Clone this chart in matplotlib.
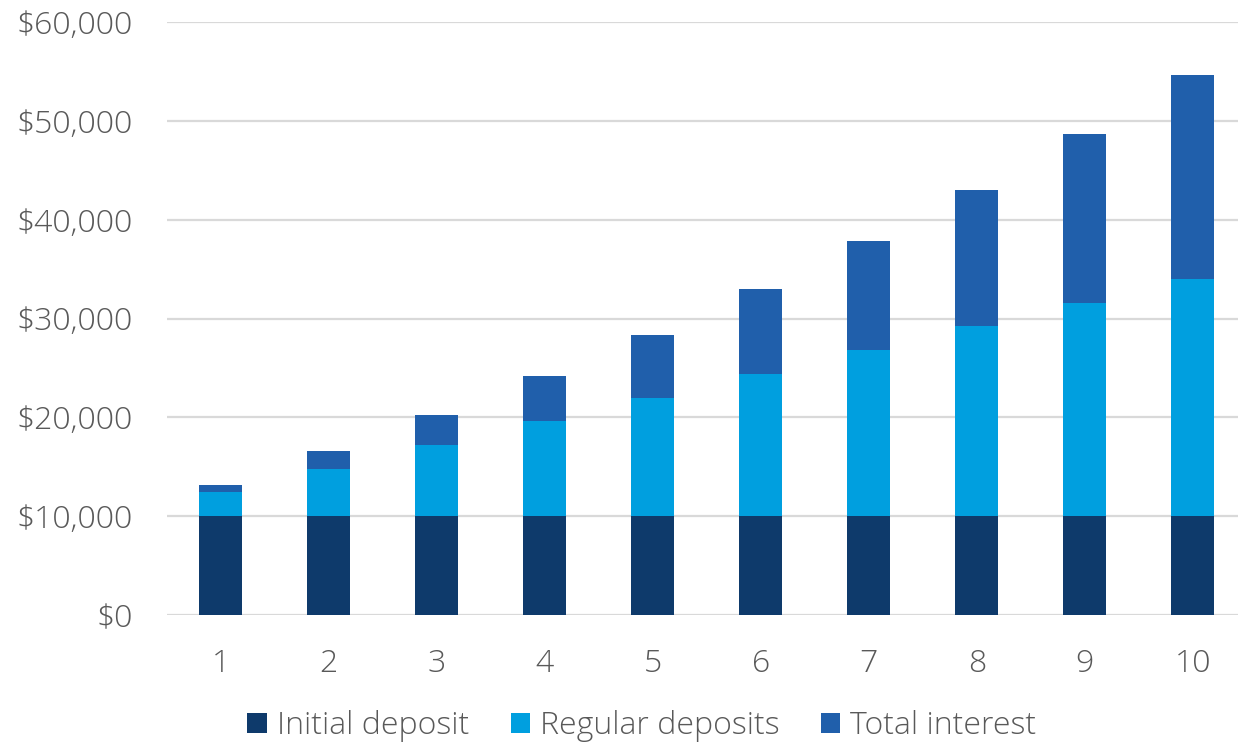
import matplotlib.pyplot as plt
import numpy as np

# savings growth over 10 years, stacked by source
years = [1, 2, 3, 4, 5, 6, 7, 8, 9, 10]
initial_deposit = [10000, 10000, 10000, 10000, 10000, 10000, 10000, 10000, 10000, 10000]
regular_deposits = [2400, 4800, 7200, 9600, 12000, 14400, 16800, 19200, 21600, 24000]
total_interest = [740, 1800, 3020, 4600, 6340, 8600, 11020, 13840, 17040, 20630]

labels = ['Initial deposit', 'Regular deposits', 'Total interest']
colors = ['#0E3A6B', '#009FDF', '#205FAB']
text_color = '#595959'

plt.rcParams['font.family'] = ['Open Sans', 'DejaVu Sans']

fig = plt.figure(figsize=(12.38, 7.43), dpi=100)
ax = fig.add_axes([166.8 / 1238, 128 / 743, 1080 / 1238, 593 / 743])

x = np.arange(len(years))
w = 0.4
b1 = np.array(initial_deposit)
b2 = b1 + np.array(regular_deposits)
ax.bar(x, initial_deposit, w, color=colors[0], label=labels[0], zorder=3)
ax.bar(x, regular_deposits, w, bottom=b1, color=colors[1], label=labels[1], zorder=3)
ax.bar(x, total_interest, w, bottom=b2, color=colors[2], label=labels[2], zorder=3)

ax.set_xlim(-0.5, len(years) - 0.5)
ax.set_ylim(0, 60000)
ax.set_yticks(range(0, 60001, 10000))
ax.set_yticklabels([f'${v:,.0f}' for v in range(0, 60001, 10000)])
ax.set_xticks(x)
ax.set_xticklabels([str(y) for y in years])

for s in ax.spines.values():
    s.set_visible(False)
ax.yaxis.grid(True, color='#d9d9d9', linewidth=1.6, zorder=0)
ax.tick_params(axis='both', length=0, labelsize=23, labelcolor=text_color)
ax.tick_params(axis='y', pad=24.5)
ax.tick_params(axis='x', pad=24)
for t in ax.get_xticklabels() + ax.get_yticklabels():
    t.set_fontweight('light')

leg = fig.legend(loc='center', bbox_to_anchor=(642 / 1238, 1 - 726 / 743), ncol=3,
                 frameon=False, handlelength=0.6, handleheight=0.6,
                 handletextpad=0.32, columnspacing=1.3, labelcolor=text_color,
                 prop={'weight': 'light', 'size': 23})

fig.savefig('out.png', dpi=100)
